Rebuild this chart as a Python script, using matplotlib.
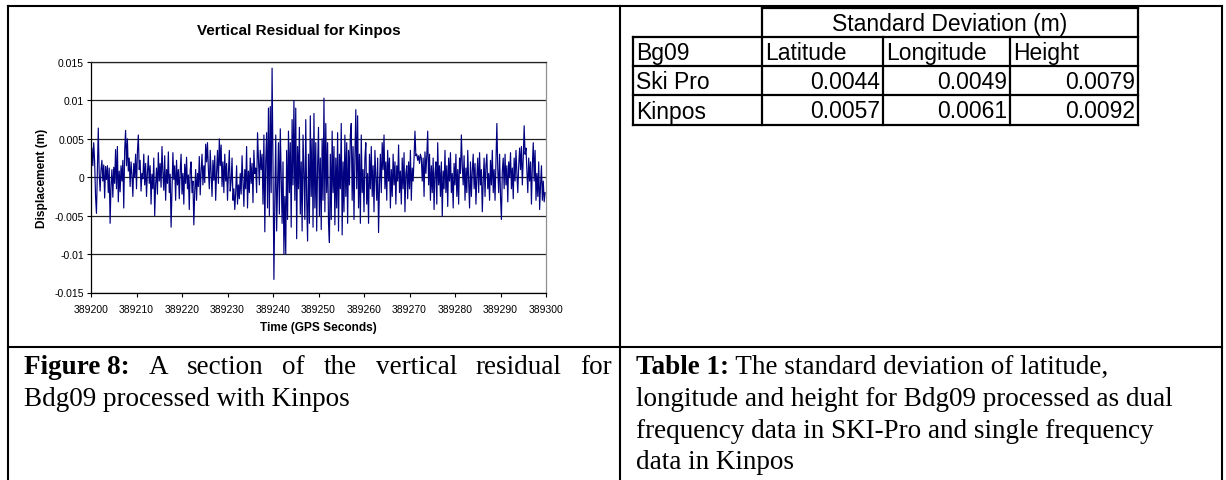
import numpy as np
import matplotlib
matplotlib.use("Agg")
import matplotlib.pyplot as plt

# ---- data --------------------------------------------------------------
T_START = 389200          # GPS seconds
SAMPLE_DT = 0.2           # s between samples (5 Hz)

# vertical residual, millimetres, one row per second (5 samples)
RESID_MM = [
    1.0, 3.8, 1.5, 4.5, 2.0,   -2.5, -4.7, 1.2, 6.4, 0.5,
    -1.8, 1.0, 2.2, -0.5, 1.6,  -2.7, 1.4, -0.3, 1.5, -2.0,
    1.2, -6.0, -1.0, 1.0, -2.6,  1.3, -0.8, 3.6, -1.5, 4.0,
    -3.2, 0.8, -1.9, 1.5, -0.5,  2.2, -4.0, 3.5, 6.1, 1.5,
    5.0, 0.8, 2.5, -1.2, 2.0,   0.3, -2.5, 1.8, 0.0, 3.0,
    # 10 s
    -1.5, 3.3, 5.5, 1.0, 2.2,   -1.8, 0.5, -0.2, 3.0, -1.0,
    1.8, -2.5, 0.6, 2.8, -0.8,  1.5, -3.5, 0.4, -1.5, 2.5,
    -5.0, -1.0, 1.2, -2.2, 3.2,  -0.5, 1.8, -1.3, 4.0, 0.6,
    -1.7, 2.8, -3.0, 1.0, -0.8,  3.3, -2.0, 0.4, -6.5, -1.5,
    3.2, -0.3, 1.5, -3.0, 2.2,  -1.0, 1.0, -2.8, 0.8, 3.0,
    # 20 s
    -2.2, 0.5, -3.5, 1.7, -0.8,  2.6, -1.5, 0.3, -4.2, 0.9,
    2.0, -2.0, -0.5, -6.2, -1.8,  1.0, -3.0, 0.5, -1.2, 2.7,
    -2.3, 0.8, 3.0, -1.0, 1.5,  -0.7, 4.3, 2.0, 4.5, 1.0,
    -1.5, 3.5, 0.6, -2.5, 2.2,  -0.4, 2.8, -3.0, 0.6, 3.5,
    -0.8, 5.0, 1.5, 4.2, -1.2,  2.0, -2.0, 3.0, -0.5, 1.8,
    # 30 s
    -3.0, 0.5, 3.5, -1.8, -0.5,  2.5, -3.0, -1.5, -4.2, -2.0,
    1.5, -3.5, -1.0, -2.8, 0.5,  -2.2, 2.8, -0.5, -3.8, 1.0,
    -1.5, 4.0, -4.0, 0.8, -2.0,  2.5, -0.8, 1.8, -3.3, 3.5,
    0.5, 1.2, -2.0, 5.8, 2.2,  -1.0, 3.5, 1.0, 3.0, -3.5,
    5.5, -7.1, 2.0, 5.8, -4.0,  9.0, -5.0, 9.2, -2.0, 14.2,
    # 40 s
    1.5, -13.3, -3.0, 5.5, -7.0,  -1.0, 4.5, -4.8, 6.3, 0.0,
    -6.0, 2.0, -10.0, -2.5, -10.0,  3.5, -5.5, 6.0, -2.0, 4.5,
    -6.5, 7.5, -1.0, 10.0, -3.0,  9.0, -8.0, 4.0, -1.5, 6.5,
    -4.8, 2.0, -7.0, 5.5, 0.5,  -5.5, 7.5, -3.0, -8.3, 3.0,
    -6.0, 8.0, -2.5, 5.0, -6.5,  8.3, -4.0, 4.5, -7.0, 1.5,
    # 50 s
    6.5, -5.0, 2.5, -6.8, 5.0,  -3.0, 10.3, -4.5, 7.0, -2.0,
    4.5, -6.0, -8.5, 3.0, -5.5,  6.0, -2.0, 4.0, -6.2, 2.5,
    -4.0, 5.8, -7.0, 3.0, -1.5,  7.0, -7.5, 2.0, -4.5, 5.5,
    -2.5, 4.5, -6.0, 3.5, -1.0,  5.5, 7.0, -3.0, 4.0, -5.5,
    2.5, 8.8, -1.5, 8.0, -4.0,  3.0, -6.0, 5.5, -2.0, 1.0,
    # 60 s
    -4.5, 2.5, 4.5, -3.5, 0.5,  -6.0, 3.0, -1.5, 4.0, -2.5,
    1.5, -4.5, 3.5, 0.0, -3.0,  2.5, -7.2, -1.0, 3.0, -2.0,
    4.5, 1.0, 5.5, -1.5, 2.0,  -3.0, 3.5, -0.5, 2.5, -4.0,
    1.0, -2.5, 3.0, -1.0, 2.0,  -3.5, 1.5, -0.5, 4.2, -2.0,
    0.8, -3.5, 2.5, -1.5, 3.2,  -4.5, 0.5, 1.5, -2.8, 2.0,
    # 70 s
    -1.5, 3.5, -3.0, 1.2, -0.5,  2.5, 6.0, 2.8, 3.0, 2.2,
    2.8, 1.8, 3.0, 2.5, -0.5,  2.5, -2.5, 3.3, 0.5, 2.8,
    6.0, -1.0, 3.0, -3.0, 1.5,  -2.0, 2.5, -4.2, 0.5, 2.0,
    -3.5, 4.5, -1.0, 1.5, -2.5,  2.0, -5.1, 0.8, -1.5, 3.5,
    -2.0, 1.5, -3.8, 2.5, -0.5,  3.2, -2.0, 0.5, -4.0, 1.8,
    # 80 s
    -1.0, 3.0, -2.5, 1.0, -3.5,  2.5, 0.5, 5.5, 1.5, -1.0,
    2.8, -3.0, 1.2, -2.0, 3.5,  -0.5, -4.0, 2.0, -2.5, 0.8,
    3.0, -1.5, 1.8, -3.5, 0.0,  2.5, -2.0, 3.2, -1.0, 1.0,
    -4.5, -0.5, 2.5, -2.5, 1.5,  3.0, -1.5, 0.5, -3.0, 2.2,
    -1.0, 3.5, -2.0, 1.0, -3.0,  2.0, 7.0, 1.0, -2.0, 3.0,
    # 90 s
    -2.5, -5.5, 0.8, 2.5, -1.5,  3.0, -1.0, 1.5, -3.2, 2.0,
    0.0, 3.2, -1.5, 1.2, -2.8,  2.5, -0.5, 3.5, 0.5, -2.0,
    1.5, 3.8, 1.0, 4.0, -1.0,  2.5, 6.7, 3.0, 3.8, 1.0,
    -2.0, 2.5, -0.5, 2.0, -3.5,  1.5, 4.5, -0.5, 3.5, -3.0,
    0.5, -2.5, 2.0, -4.2, -1.0,  1.5, -3.0, -0.5, -3.2, -2.0,
]

X_TICKS = [389200, 389210, 389220, 389230, 389240, 389250,
           389260, 389270, 389280, 389290, 389300]
Y_TICKS = [-0.015, -0.01, -0.005, 0, 0.005, 0.01, 0.015]
Y_TICK_LABELS = ["-0.015", "-0.01", "-0.005", "0", "0.005", "0.01", "0.015"]

TABLE_HEADER = "Standard Deviation (m)"
TABLE_COLS = ["Bg09", "Latitude", "Longitude", "Height"]
TABLE_ROWS = ["Ski Pro", "Kinpos"]
TABLE_VALUES = [[0.0044, 0.0049, 0.0079],
                [0.0057, 0.0061, 0.0092]]

FIG_CAPTION_BOLD = "Figure 8:"
FIG_CAPTION_LINE1 = ["A", "section", "of", "the", "vertical", "residual", "for"]
FIG_CAPTION_LINE2 = "Bdg09 processed with Kinpos"
TAB_CAPTION_BOLD = "Table 1:"
TAB_CAPTION_LINES = [" The standard deviation of latitude,",
                     "longitude and height for Bdg09 processed as dual",
                     "frequency data in SKI-Pro and single frequency",
                     "data in Kinpos"]

# ---- page geometry (pixels) ---------------------------------------------
W, H = 1226, 481
PAGE_L, PAGE_T, PAGE_R = 8, 7, 1222
COL_DIV = 620
ROW_DIV = 348
PLOT_L, PLOT_R, PLOT_T, PLOT_B = 91, 546, 63, 293.5
TAB_X = [633, 762, 883, 1010, 1138]
TAB_Y = [9, 38, 67, 96, 126]

SANS = "Liberation Sans"
SERIF = "Liberation Serif"
CAP_SIZE = 19.5
TAB_SIZE = 16.5

fig = plt.figure(figsize=(W / 100, H / 100), dpi=100)

# full-page overlay in pixel coordinates for borders, table and captions
page = fig.add_axes([0, 0, 1, 1])
page.set_xlim(0, W)
page.set_ylim(H, 0)
page.axis("off")

lw_page = 1.5
page.plot([PAGE_L, PAGE_R], [PAGE_T, PAGE_T], color="black", lw=lw_page)
page.plot([PAGE_L, PAGE_L], [PAGE_T, H], color="black", lw=lw_page)
page.plot([PAGE_R, PAGE_R], [PAGE_T, H], color="black", lw=lw_page)
page.plot([COL_DIV, COL_DIV], [PAGE_T, H], color="black", lw=lw_page)
page.plot([PAGE_L, PAGE_R], [ROW_DIV, ROW_DIV], color="black", lw=lw_page)

# ---- table ---------------------------------------------------------------
lw_tab = 1.6
page.plot([TAB_X[1], TAB_X[-1]], [TAB_Y[0], TAB_Y[0]], color="black", lw=lw_tab)
for y in TAB_Y[1:]:
    page.plot([TAB_X[0], TAB_X[-1]], [y, y], color="black", lw=lw_tab)
page.plot([TAB_X[0], TAB_X[0]], [TAB_Y[1], TAB_Y[-1]], color="black", lw=lw_tab)
page.plot([TAB_X[1], TAB_X[1]], [TAB_Y[0], TAB_Y[-1]], color="black", lw=lw_tab)
page.plot([TAB_X[-1], TAB_X[-1]], [TAB_Y[0], TAB_Y[-1]], color="black", lw=lw_tab)
for x in TAB_X[2:-1]:
    page.plot([x, x], [TAB_Y[1], TAB_Y[-1]], color="black", lw=lw_tab)

tab_font = dict(family=SANS, fontsize=TAB_SIZE, va="center")
page.text((TAB_X[1] + TAB_X[-1]) / 2, (TAB_Y[0] + TAB_Y[1]) / 2 + 1,
          TABLE_HEADER, ha="center", **tab_font)
for j, name in enumerate(TABLE_COLS):
    page.text(TAB_X[j] + 3, (TAB_Y[1] + TAB_Y[2]) / 2 + 1, name, ha="left", **tab_font)
for i, name in enumerate(TABLE_ROWS):
    yc = (TAB_Y[i + 2] + TAB_Y[i + 3]) / 2 + 1
    page.text(TAB_X[0] + 3, yc, name, ha="left", **tab_font)
    for j, v in enumerate(TABLE_VALUES[i]):
        page.text(TAB_X[j + 2] - 3, yc, f"{v:.4f}", ha="right", **tab_font)

# ---- captions ------------------------------------------------------------
renderer = fig.canvas.get_renderer()
cap = dict(family=SERIF, fontsize=CAP_SIZE, va="baseline")
base = [374, 406, 438, 469]

# left caption, first line justified
words = [(FIG_CAPTION_BOLD, "bold")] + [(w, "normal") for w in FIG_CAPTION_LINE1]
texts = [page.text(0, base[0], w, fontweight=fw, **cap) for w, fw in words]
widths = [t.get_window_extent(renderer).width for t in texts]
x0, x1 = 24, 612
gap = (x1 - x0 - sum(widths)) / (len(texts) - 1)
x = x0
for t, wdt in zip(texts, widths):
    t.set_x(x)
    x += wdt + gap
page.text(x0, base[1], FIG_CAPTION_LINE2, **cap)

# right caption
tb = page.text(636, base[0], TAB_CAPTION_BOLD, fontweight="bold", **cap)
bw = tb.get_window_extent(renderer).width
page.text(636 + bw, base[0], TAB_CAPTION_LINES[0], **cap)
for k, line in enumerate(TAB_CAPTION_LINES[1:], start=1):
    page.text(636, base[k], line, **cap)

# ---- chart ---------------------------------------------------------------
ax = fig.add_axes([PLOT_L / W, 1 - PLOT_B / H,
                   (PLOT_R - PLOT_L) / W, (PLOT_B - PLOT_T) / H])
t = T_START + SAMPLE_DT * np.arange(len(RESID_MM))
disp = np.array(RESID_MM) / 1000.0
ax.plot(t, disp, color="#000080", lw=0.85)

ax.set_xlim(X_TICKS[0], X_TICKS[-1])
ax.set_ylim(Y_TICKS[0], Y_TICKS[-1])
ax.set_xticks(X_TICKS)
ax.set_xticklabels([str(v) for v in X_TICKS])
ax.set_yticks(Y_TICKS)
ax.set_yticklabels(Y_TICK_LABELS)
for lab in ax.get_xticklabels() + ax.get_yticklabels():
    lab.set_family(SANS)
    lab.set_fontsize(7.5)
ax.tick_params(axis="y", direction="out", length=3, width=0.8, pad=2)
ax.tick_params(axis="x", direction="out", length=3, width=0.8, pad=5)
ax.yaxis.grid(True, color="#222222", lw=0.9)
ax.set_axisbelow(True)
ax.spines["left"].set_color("black")
ax.spines["bottom"].set_color("black")
ax.spines["top"].set_color("#222222")
ax.spines["right"].set_color("#909090")
for s in ax.spines.values():
    s.set_linewidth(0.9)

fig.text(299 / W, 1 - 31 / H, "Vertical Residual for Kinpos", family=SANS,
         fontsize=11, fontweight="bold", ha="center", va="center")
fig.text(318.5 / W, 1 - 328 / H, "Time (GPS Seconds)", family=SANS,
         fontsize=8.6, fontweight="bold", ha="center", va="center")
fig.text(42 / W, 1 - 178 / H, "Displacement (m)", family=SANS,
         fontsize=8.6, fontweight="bold", ha="center", va="center", rotation=90)

fig.savefig("out.png", dpi=100)
